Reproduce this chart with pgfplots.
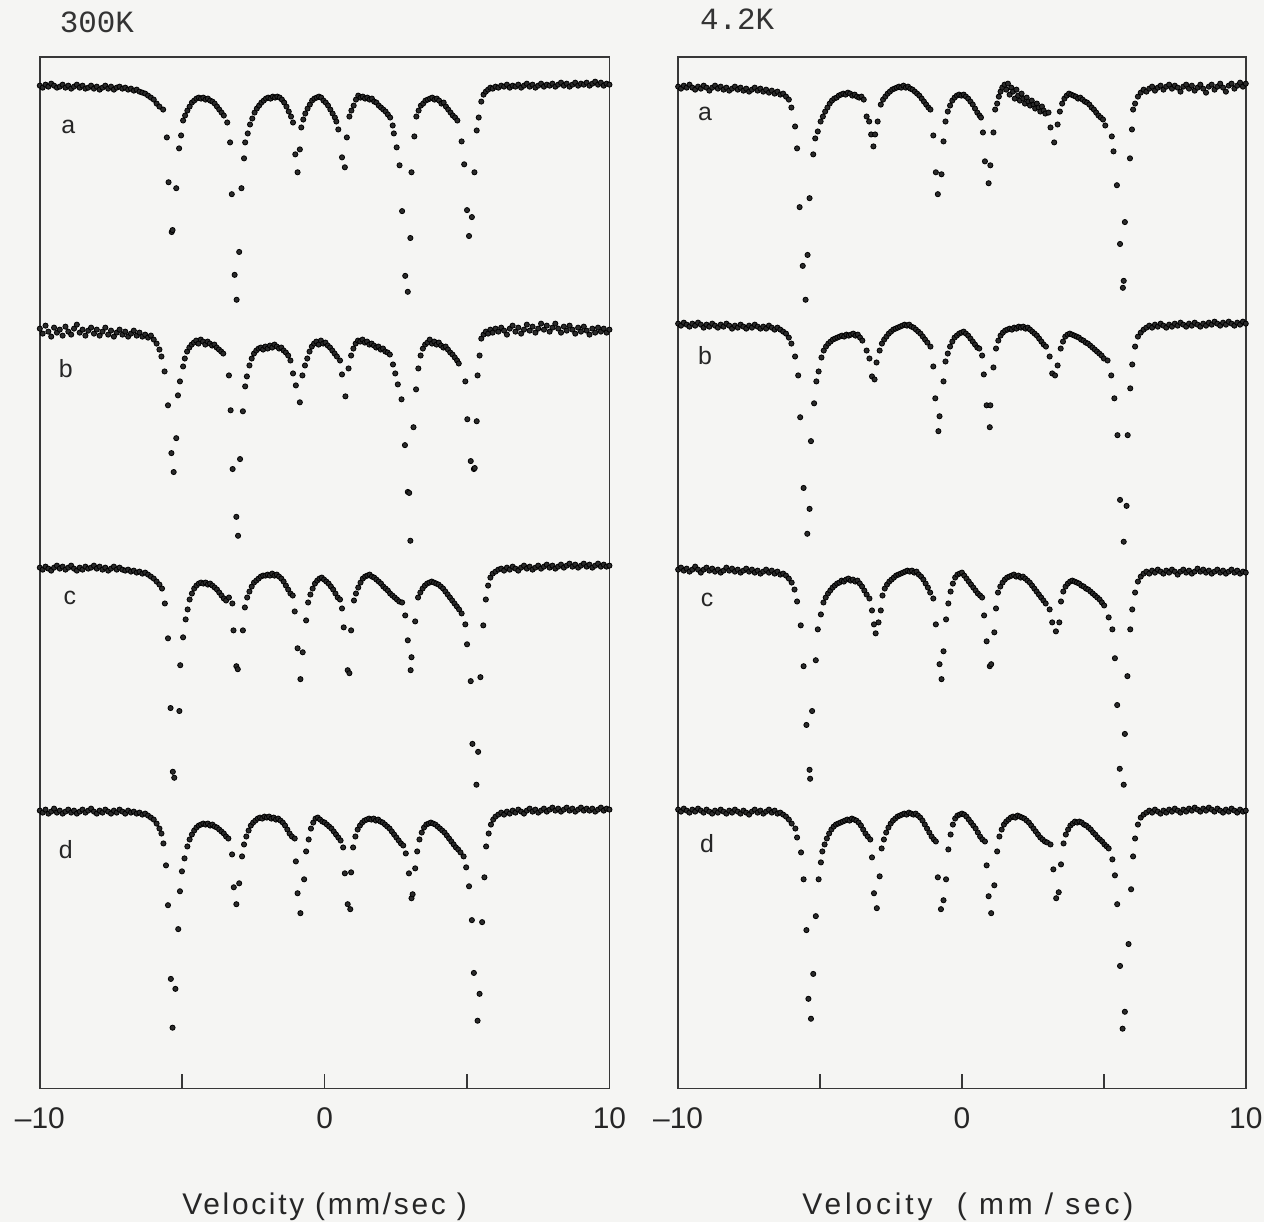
\documentclass[border=0pt]{standalone}
\usepackage{fontspec}
\setmainfont{Liberation Sans}
\newfontfamily\labfont[LetterSpace=13]{Liberation Sans}
\newfontfamily\labfontb[LetterSpace=9]{Liberation Sans}
\newfontfamily\monofont{Liberation Mono}
\usepackage{pgfplots}
\pgfplotsset{compat=1.18}
\definecolor{dotc}{RGB}{42,42,42}
\definecolor{framec}{RGB}{55,55,55}
\definecolor{paper}{RGB}{245,245,243}
\tikzset{lab/.style={font=\fontsize{12.5}{12.5}\selectfont, text=black!85}}
\pgfplotsset{
  moss/.style={
    scale only axis, width=286pt, height=518pt,
    xmin=-10, xmax=10, ymin=57, ymax=1093, y dir=reverse,
    axis line style={framec, line width=0.9pt},
    xtick={-10,-5,0,5,10},
    xticklabels={–10,,0,,10},
    ytick=\empty,
    tick align=inside, xtick pos=lower,
    major tick length=7.5pt,
    tick style={framec, line width=0.8pt},
    xticklabel style={font=\fontsize{15}{15}\selectfont, text=black!85, yshift=-6pt},
    clip=false,
  },
  dots/.style={only marks, mark=*, mark size=1.3pt, mark options={draw=none, fill=dotc}},
}
\begin{document}
\begin{tikzpicture}
\fill[paper] (0pt,0pt) rectangle (634.5pt,-613.5pt);
\node[anchor=base west, font=\monofont\fontsize{15.5}{15.5}\selectfont, text=black!80] at (26.5pt,-16.5pt) {300K};
\node[anchor=base west, font=\monofont\fontsize{15.5}{15.5}\selectfont, text=black!80] at (348pt,-15pt) {4.2K};
\node[anchor=base, font=\labfontb\fontsize{15}{15}\selectfont, text=black!85] at (163pt,-610pt) {Velocity (mm/sec )};
\node[anchor=base, font=\labfont\fontsize{15}{15}\selectfont, text=black!85] at (486pt,-610pt) {Velocity \ ( mm / sec)};
% ---------------- 300 K ----------------
\begin{axis}[moss, at={(163pt,-287.5pt)}, anchor=center]
\node[lab] at (axis cs:-9.0,127) {a};
\node[lab] at (axis cs:-9.09,370) {b};
\node[lab] at (axis cs:-8.95,600) {c};
\node[lab] at (axis cs:-9.09,853) {d};
% a
\addplot[dots] table {
x y
-10.0 86
-9.9 88
-9.8 85
-9.7 87
-9.6 84
-9.5 86
-9.4 88
-9.3 87
-9.2 85
-9.1 88
-9.0 86
-8.9 89
-8.8 87
-8.7 85
-8.6 88
-8.5 86
-8.4 89
-8.3 88
-8.2 86
-8.1 89
-8.0 87
-7.9 90
-7.8 88
-7.7 86
-7.6 89
-7.5 87
-7.4 90
-7.3 88
-7.2 87
-7.1 89
-7.0 88
-6.9 90
-6.8 89
-6.7 91
-6.6 90
-6.5 92
-6.4 93
-6.3 94
-6.2 96
-6.1 98
-6.0 100
-5.9 104
-5.8 107
-5.67 110
-5.54 138
-5.48 183
-5.37 233
-5.34 231
-5.21 189
-5.11 149
-5.04 136
-4.97 121
-4.9 116
-4.82 111
-4.74 107
-4.66 103
-4.58 101
-4.5 99
-4.42 98
-4.34 99
-4.26 98
-4.18 100
-4.1 99
-4.02 101
-3.94 102
-3.86 104
-3.78 107
-3.7 110
-3.62 113
-3.54 116
-3.42 123
-3.32 143
-3.26 195
-3.16 276
-3.09 301
-3.0 253
-2.92 189
-2.83 159
-2.79 143
-2.7 134
-2.62 125
-2.54 119
-2.46 113
-2.38 109
-2.3 106
-2.22 103
-2.14 101
-2.06 99
-1.98 98
-1.9 99
-1.82 97
-1.74 98
-1.66 97
-1.58 98
-1.5 100
-1.42 103
-1.34 107
-1.26 112
-1.18 117
-1.11 123
-1.03 155
-0.95 173
-0.87 150
-0.82 128
-0.75 120
-0.68 114
-0.6 109
-0.52 105
-0.44 101
-0.36 99
-0.28 98
-0.2 97
-0.12 98
-0.04 101
0.04 103
0.12 106
0.2 110
0.28 114
0.36 118
0.41 122
0.48 130
0.61 158
0.71 168
0.78 138
0.87 117
0.94 111
1.02 106
1.1 100
1.18 96
1.26 98
1.34 97
1.42 99
1.5 98
1.58 100
1.66 99
1.74 102
1.82 103
1.9 106
1.98 108
2.06 110
2.14 112
2.22 115
2.3 118
2.39 126
2.43 134
2.53 148
2.63 166
2.72 212
2.83 277
2.92 293
3.01 239
3.05 173
3.15 137
3.22 117
3.3 111
3.38 106
3.46 104
3.54 101
3.62 100
3.7 99
3.78 98
3.86 100
3.94 99
4.02 101
4.1 104
4.18 103
4.26 107
4.34 110
4.42 113
4.5 116
4.58 118
4.66 121
4.81 142
4.9 165
5.0 211
5.07 237
5.17 218
5.26 173
5.34 131
5.41 118
5.5 102
5.58 95
5.66 92
5.74 90
5.82 88
5.9 89
6.0 87
6.1 88
6.2 86
6.3 87
6.4 85
6.5 88
6.6 86
6.7 87
6.8 85
6.9 88
7.0 86
7.1 84
7.2 87
7.3 85
7.4 88
7.5 86
7.6 84
7.7 87
7.8 85
7.9 86
8.0 84
8.1 87
8.2 85
8.3 83
8.4 86
8.5 84
8.6 87
8.7 85
8.8 83
8.9 86
9.0 84
9.1 85
9.2 83
9.3 86
9.4 84
9.5 82
9.6 85
9.7 83
9.8 86
9.9 84
10.0 85
};
% b
\addplot[dots] table {
x y
-10.0 330
-9.9 335
-9.8 327
-9.7 333
-9.6 338
-9.5 329
-9.4 334
-9.3 331
-9.2 337
-9.1 328
-9.0 333
-8.9 336
-8.8 330
-8.7 326
-8.6 334
-8.5 331
-8.4 337
-8.3 332
-8.2 329
-8.1 335
-8.0 331
-7.9 337
-7.8 333
-7.7 329
-7.6 336
-7.5 332
-7.4 338
-7.3 334
-7.2 331
-7.1 336
-7.0 333
-6.9 338
-6.8 335
-6.7 332
-6.6 337
-6.5 334
-6.4 338
-6.3 336
-6.2 339
-6.1 337
-6.0 341
-5.9 345
-5.8 351
-5.73 358
-5.62 373
-5.5 407
-5.38 455
-5.3 474
-5.21 440
-5.15 397
-5.08 383
-4.97 368
-4.91 360
-4.83 353
-4.75 349
-4.67 346
-4.59 344
-4.51 342
-4.43 345
-4.35 341
-4.27 343
-4.19 346
-4.11 343
-4.03 345
-3.95 347
-3.87 346
-3.79 349
-3.71 351
-3.63 353
-3.56 355
-3.36 377
-3.3 412
-3.23 471
-3.1 519
-3.04 538
-2.97 461
-2.87 413
-2.79 388
-2.73 378
-2.64 367
-2.56 360
-2.48 355
-2.4 352
-2.32 350
-2.24 349
-2.16 351
-2.08 348
-2.0 350
-1.92 347
-1.84 349
-1.76 346
-1.68 348
-1.6 350
-1.52 349
-1.44 352
-1.36 354
-1.28 357
-1.2 362
-1.11 375
-1.01 387
-0.87 404
-0.78 377
-0.69 367
-0.61 360
-0.53 353
-0.45 348
-0.37 345
-0.29 343
-0.21 346
-0.13 342
-0.05 345
0.03 344
0.11 347
0.19 349
0.27 352
0.35 355
0.43 358
0.54 362
0.61 376
0.73 398
0.84 370
0.93 357
1.01 350
1.09 345
1.17 342
1.25 343
1.33 341
1.41 344
1.49 343
1.57 346
1.65 345
1.73 347
1.81 349
1.89 348
1.97 351
2.05 350
2.13 353
2.21 354
2.29 356
2.4 366
2.48 375
2.57 386
2.7 401
2.82 447
2.92 494
2.97 495
3.01 543
3.12 429
3.21 391
3.29 370
3.37 357
3.45 350
3.53 346
3.61 344
3.69 341
3.77 345
3.85 343
3.93 346
4.01 344
4.09 347
4.17 349
4.25 348
4.33 351
4.41 354
4.49 356
4.57 359
4.65 362
4.71 365
4.94 383
5.01 421
5.13 463
5.24 471
5.27 470
5.34 423
5.37 377
5.44 357
5.5 340
5.58 336
5.66 333
5.74 335
5.82 331
5.9 334
6.0 330
6.1 333
6.2 329
6.3 332
6.4 336
6.5 330
6.6 327
6.7 333
6.8 329
6.9 335
7.0 331
7.1 326
7.2 332
7.3 328
7.4 334
7.5 330
7.6 325
7.7 331
7.8 327
7.9 333
8.0 329
8.1 325
8.2 330
8.3 334
8.4 328
8.5 332
8.6 327
8.7 331
8.8 335
8.9 329
9.0 333
9.1 328
9.2 332
9.3 336
9.4 330
9.5 334
9.6 329
9.7 333
9.8 330
9.9 334
10.0 331
};
% c
\addplot[dots] table {
x y
-10.0 570
-9.9 572
-9.8 569
-9.7 571
-9.6 573
-9.5 570
-9.4 568
-9.3 571
-9.2 569
-9.1 572
-9.0 570
-8.9 568
-8.8 571
-8.7 573
-8.6 570
-8.5 572
-8.4 569
-8.3 571
-8.2 570
-8.1 568
-8.0 571
-7.9 569
-7.8 572
-7.7 570
-7.6 573
-7.5 571
-7.4 569
-7.3 572
-7.2 570
-7.1 572
-7.0 573
-6.9 572
-6.8 574
-6.7 573
-6.6 575
-6.5 574
-6.4 576
-6.3 575
-6.2 577
-6.1 579
-6.0 581
-5.9 584
-5.8 587
-5.71 591
-5.61 606
-5.5 641
-5.41 711
-5.33 775
-5.28 781
-5.1 714
-5.07 668
-4.97 640
-4.88 622
-4.81 612
-4.74 602
-4.66 596
-4.58 591
-4.5 588
-4.42 586
-4.34 585
-4.26 586
-4.18 585
-4.1 587
-4.02 586
-3.94 588
-3.86 590
-3.78 592
-3.7 595
-3.62 598
-3.54 601
-3.46 603
-3.36 600
-3.24 606
-3.2 633
-3.1 669
-3.05 672
-2.87 633
-2.8 610
-2.72 600
-2.64 594
-2.56 589
-2.48 585
-2.4 583
-2.32 581
-2.24 579
-2.16 578
-2.08 578
-2.0 577
-1.92 578
-1.84 576
-1.76 578
-1.68 577
-1.6 579
-1.52 581
-1.44 584
-1.36 588
-1.28 592
-1.2 596
-1.12 598
-1.05 614
-0.95 651
-0.85 682
-0.77 655
-0.65 623
-0.58 605
-0.5 597
-0.42 591
-0.34 586
-0.26 583
-0.18 581
-0.1 580
-0.02 582
0.06 584
0.14 586
0.22 589
0.3 592
0.38 596
0.46 600
0.54 602
0.61 611
0.67 630
0.81 673
0.87 676
0.93 633
1.03 603
1.1 596
1.18 590
1.26 585
1.34 581
1.42 579
1.5 578
1.58 577
1.66 579
1.74 580
1.82 582
1.9 584
1.98 586
2.06 589
2.14 591
2.22 593
2.3 596
2.38 598
2.46 600
2.54 602
2.62 604
2.72 605
2.83 618
2.92 643
3.02 673
3.05 660
3.18 624
3.28 600
3.36 595
3.44 591
3.52 588
3.6 586
3.68 585
3.76 584
3.84 585
3.92 586
4.0 587
4.08 589
4.16 591
4.24 594
4.32 597
4.4 600
4.48 603
4.56 606
4.64 609
4.72 612
4.81 616
4.94 627
5.0 647
5.13 684
5.19 747
5.33 788
5.39 755
5.47 680
5.57 628
5.66 602
5.74 588
5.82 580
5.9 576
6.0 574
6.1 572
6.2 571
6.3 573
6.4 570
6.5 572
6.6 569
6.7 571
6.8 573
6.9 570
7.0 568
7.1 571
7.2 569
7.3 572
7.4 570
7.5 568
7.6 571
7.7 569
7.8 567
7.9 570
8.0 568
8.1 571
8.2 569
8.3 567
8.4 570
8.5 568
8.6 566
8.7 569
8.8 567
8.9 570
9.0 568
9.1 566
9.2 569
9.3 567
9.4 570
9.5 568
9.6 566
9.7 569
9.8 567
9.9 569
10.0 568
};
% d
\addplot[dots] table {
x y
-10.0 814
-9.9 816
-9.8 813
-9.7 817
-9.6 815
-9.5 812
-9.4 816
-9.3 814
-9.2 817
-9.1 815
-9.0 813
-8.9 816
-8.8 814
-8.7 817
-8.6 815
-8.5 813
-8.4 816
-8.3 814
-8.2 812
-8.1 815
-8.0 817
-7.9 814
-7.8 816
-7.7 813
-7.6 815
-7.5 817
-7.4 814
-7.3 816
-7.2 813
-7.1 815
-7.0 817
-6.9 814
-6.8 816
-6.7 815
-6.6 817
-6.5 816
-6.4 818
-6.3 817
-6.2 819
-6.1 821
-6.0 823
-5.9 827
-5.8 832
-5.73 837
-5.66 847
-5.57 869
-5.5 909
-5.4 983
-5.34 1032
-5.24 993
-5.14 933
-5.08 895
-5.01 875
-4.92 862
-4.82 850
-4.74 843
-4.66 838
-4.58 834
-4.5 831
-4.42 829
-4.34 828
-4.26 827
-4.18 828
-4.1 827
-4.02 829
-3.94 828
-3.86 830
-3.78 831
-3.7 833
-3.62 835
-3.54 837
-3.46 840
-3.38 842
-3.25 858
-3.19 891
-3.1 908
-3.0 887
-2.9 860
-2.83 848
-2.75 840
-2.67 834
-2.59 829
-2.51 826
-2.43 824
-2.35 822
-2.27 821
-2.19 822
-2.11 820
-2.03 821
-1.95 820
-1.87 822
-1.79 821
-1.71 823
-1.63 822
-1.55 824
-1.47 826
-1.39 829
-1.31 833
-1.23 837
-1.15 840
-1.05 842
-1.01 865
-0.95 897
-0.85 917
-0.72 883
-0.65 855
-0.56 843
-0.48 832
-0.4 826
-0.32 822
-0.24 821
-0.16 823
-0.08 825
0.0 826
0.08 828
0.16 830
0.24 832
0.32 835
0.4 838
0.48 841
0.56 844
0.65 851
0.71 877
0.81 908
0.9 913
0.93 876
1.0 851
1.08 840
1.16 833
1.24 829
1.32 826
1.4 824
1.48 823
1.56 822
1.64 823
1.72 822
1.8 824
1.88 823
1.96 825
2.04 826
2.12 828
2.2 830
2.28 832
2.36 835
2.44 838
2.52 841
2.6 844
2.68 847
2.76 849
2.85 857
2.96 877
3.05 902
3.09 898
3.18 872
3.25 855
3.33 843
3.41 836
3.49 831
3.57 828
3.65 827
3.73 826
3.81 827
3.89 828
3.97 830
4.05 832
4.13 834
4.21 836
4.29 839
4.37 842
4.45 845
4.53 848
4.61 851
4.69 853
4.77 856
4.88 860
4.97 871
5.07 890
5.17 924
5.24 977
5.37 1025
5.44 998
5.53 926
5.61 881
5.67 850
5.76 837
5.84 828
5.92 823
6.0 820
6.1 818
6.2 816
6.3 818
6.4 815
6.5 817
6.6 814
6.7 816
6.8 813
6.9 815
7.0 817
7.1 814
7.2 812
7.3 815
7.4 813
7.5 816
7.6 814
7.7 812
7.8 815
7.9 813
8.0 811
8.1 814
8.2 812
8.3 815
8.4 813
8.5 811
8.6 814
8.7 812
8.8 815
8.9 813
9.0 811
9.1 814
9.2 812
9.3 814
9.4 812
9.5 815
9.6 813
9.7 811
9.8 814
9.9 812
10.0 813
};
\end{axis}
% ---------------- 4.2 K ----------------
\begin{axis}[moss, width=285pt, at={(483pt,-287.5pt)}, anchor=center]
\node[lab] at (axis cs:-9.05,114) {a};
\node[lab] at (axis cs:-9.05,357) {b};
\node[lab] at (axis cs:-8.98,602) {c};
\node[lab] at (axis cs:-8.98,847) {d};
% a
\addplot[dots] table {
x y
-10.0 87
-9.9 89
-9.8 86
-9.7 88
-9.6 85
-9.5 88
-9.4 90
-9.3 87
-9.2 89
-9.1 86
-9.0 88
-8.9 91
-8.8 88
-8.7 86
-8.6 89
-8.5 87
-8.4 90
-8.3 88
-8.2 91
-8.1 89
-8.0 87
-7.9 90
-7.8 88
-7.7 91
-7.6 89
-7.5 92
-7.4 90
-7.3 88
-7.2 91
-7.1 89
-7.0 92
-6.9 90
-6.8 93
-6.7 91
-6.6 94
-6.5 92
-6.4 95
-6.3 94
-6.2 97
-6.1 100
-6.01 108
-5.88 127
-5.81 149
-5.72 208
-5.61 267
-5.51 301
-5.44 256
-5.37 199
-5.24 155
-5.17 139
-5.08 132
-4.98 122
-4.9 117
-4.82 112
-4.74 108
-4.66 104
-4.58 101
-4.5 99
-4.42 98
-4.34 96
-4.26 95
-4.18 94
-4.1 95
-4.02 93
-3.94 94
-3.86 96
-3.78 95
-3.7 97
-3.62 98
-3.54 97
-3.46 100
-3.36 117
-3.27 122
-3.2 135
-3.12 147
-3.06 135
-2.97 122
-2.86 105
-2.78 100
-2.7 97
-2.62 94
-2.54 92
-2.46 90
-2.38 89
-2.3 88
-2.22 87
-2.14 88
-2.06 86
-1.98 88
-1.9 87
-1.82 89
-1.74 90
-1.66 92
-1.58 94
-1.5 96
-1.42 99
-1.34 102
-1.26 105
-1.18 108
-1.11 110
-1.01 136
-0.92 173
-0.85 195
-0.72 175
-0.65 142
-0.58 122
-0.5 112
-0.42 106
-0.34 101
-0.26 98
-0.18 96
-0.1 95
-0.02 96
0.06 95
0.14 97
0.22 99
0.3 102
0.38 105
0.46 109
0.54 113
0.62 116
0.67 118
0.74 133
0.81 162
0.94 184
1.0 166
1.11 133
1.17 110
1.24 104
1.3 97
1.36 92
1.42 88
1.5 85
1.56 90
1.62 84
1.68 95
1.74 88
1.8 92
1.86 99
1.92 90
1.98 96
2.04 101
2.1 94
2.16 99
2.22 104
2.28 98
2.34 102
2.4 106
2.46 101
2.52 105
2.58 109
2.64 104
2.7 108
2.76 112
2.82 107
2.88 111
2.94 114
3.05 113
3.12 128
3.25 143
3.37 125
3.45 112
3.53 104
3.61 99
3.69 96
3.77 94
3.85 95
3.93 96
4.01 97
4.09 99
4.17 98
4.25 100
4.33 102
4.41 103
4.49 105
4.57 108
4.65 110
4.73 113
4.81 116
4.89 118
4.97 120
5.05 126
5.28 137
5.34 152
5.46 186
5.57 245
5.67 289
5.7 282
5.74 223
5.92 159
5.99 130
6.03 110
6.1 104
6.2 97
6.3 93
6.4 90
6.5 92
6.6 89
6.7 87
6.8 91
6.9 88
7.0 86
7.1 90
7.2 87
7.3 85
7.4 89
7.5 86
7.6 88
7.7 92
7.8 87
7.9 85
8.0 89
8.1 86
8.2 91
8.3 88
8.4 85
8.5 89
8.6 93
8.7 87
8.8 85
8.9 90
9.0 87
9.1 84
9.2 88
9.3 92
9.4 86
9.5 84
9.6 89
9.7 86
9.8 83
9.9 87
10.0 84
};
% b
\addplot[dots] table {
x y
-10.0 325
-9.9 327
-9.8 324
-9.7 326
-9.6 328
-9.5 325
-9.4 327
-9.3 324
-9.2 326
-9.1 329
-9.0 326
-8.9 328
-8.8 325
-8.7 327
-8.6 329
-8.5 326
-8.4 328
-8.3 325
-8.2 327
-8.1 330
-8.0 327
-7.9 329
-7.8 326
-7.7 328
-7.6 330
-7.5 327
-7.4 329
-7.3 326
-7.2 328
-7.1 330
-7.0 328
-6.9 330
-6.8 327
-6.7 329
-6.6 331
-6.5 329
-6.4 331
-6.3 333
-6.2 335
-6.1 339
-6.01 345
-5.88 358
-5.77 377
-5.7 419
-5.58 490
-5.45 536
-5.37 511
-5.32 443
-5.21 405
-5.13 383
-5.05 373
-4.95 359
-4.87 352
-4.79 348
-4.71 345
-4.63 343
-4.55 341
-4.47 340
-4.39 339
-4.31 338
-4.23 337
-4.15 338
-4.07 336
-3.99 337
-3.91 336
-3.83 335
-3.75 337
-3.67 336
-3.59 339
-3.51 342
-3.36 352
-3.26 360
-3.17 378
-3.08 381
-3.01 364
-2.9 352
-2.82 345
-2.74 341
-2.66 338
-2.58 335
-2.5 333
-2.42 331
-2.34 330
-2.26 329
-2.18 328
-2.1 327
-2.02 326
-1.94 327
-1.86 326
-1.78 328
-1.7 329
-1.62 331
-1.54 333
-1.46 335
-1.38 338
-1.3 341
-1.22 344
-1.11 348
-1.01 368
-0.94 400
-0.83 433
-0.79 418
-0.65 383
-0.58 363
-0.5 355
-0.42 348
-0.34 343
-0.26 339
-0.18 337
-0.1 335
-0.02 334
0.06 333
0.14 335
0.22 337
0.3 340
0.38 343
0.46 346
0.54 349
0.61 350
0.71 357
0.77 376
0.87 407
0.98 429
1.0 407
1.11 369
1.2 350
1.28 342
1.36 337
1.44 334
1.52 332
1.6 331
1.68 330
1.76 331
1.84 329
1.92 330
2.0 328
2.08 329
2.16 328
2.24 330
2.32 329
2.4 331
2.48 333
2.56 335
2.64 337
2.72 340
2.8 343
2.88 346
2.96 348
3.09 358
3.18 375
3.28 377
3.37 367
3.48 350
3.56 343
3.64 338
3.72 336
3.8 335
3.88 336
3.96 337
4.04 338
4.12 339
4.2 341
4.28 342
4.36 344
4.44 345
4.52 347
4.6 349
4.68 351
4.76 353
4.84 355
4.92 357
5.0 360
5.13 362
5.26 377
5.37 400
5.48 437
5.57 502
5.7 544
5.8 508
5.84 437
5.93 390
6.0 366
6.1 348
6.2 338
6.3 334
6.4 331
6.5 329
6.6 327
6.7 329
6.8 326
6.9 328
7.0 325
7.1 327
7.2 329
7.3 326
7.4 328
7.5 325
7.6 327
7.7 324
7.8 326
7.9 328
8.0 325
8.1 327
8.2 324
8.3 326
8.4 328
8.5 325
8.6 327
8.7 324
8.8 326
8.9 323
9.0 325
9.1 327
9.2 324
9.3 326
9.4 323
9.5 325
9.6 327
9.7 324
9.8 326
9.9 323
10.0 325
};
% c
\addplot[dots] table {
x y
-10.0 572
-9.9 570
-9.8 573
-9.7 571
-9.6 574
-9.5 572
-9.4 569
-9.3 572
-9.2 575
-9.1 572
-9.0 570
-8.9 573
-8.8 571
-8.7 574
-8.6 572
-8.5 575
-8.4 573
-8.3 570
-8.2 573
-8.1 571
-8.0 574
-7.9 572
-7.8 575
-7.7 573
-7.6 571
-7.5 574
-7.4 572
-7.3 575
-7.2 573
-7.1 576
-7.0 574
-6.9 572
-6.8 575
-6.7 573
-6.6 576
-6.5 574
-6.4 577
-6.3 576
-6.2 578
-6.1 581
-6.0 585
-5.9 592
-5.81 604
-5.68 628
-5.58 669
-5.48 728
-5.37 773
-5.35 782
-5.28 714
-5.15 663
-5.08 632
-4.97 617
-4.88 605
-4.8 600
-4.72 596
-4.64 593
-4.56 590
-4.48 588
-4.4 586
-4.32 585
-4.24 583
-4.16 584
-4.08 582
-4.0 581
-3.92 583
-3.84 582
-3.76 584
-3.68 583
-3.6 586
-3.52 589
-3.44 593
-3.36 597
-3.26 601
-3.17 613
-3.1 627
-3.04 636
-2.94 625
-2.86 613
-2.8 598
-2.72 591
-2.64 587
-2.56 584
-2.48 582
-2.4 580
-2.32 578
-2.24 577
-2.16 576
-2.08 575
-2.0 574
-1.92 573
-1.84 574
-1.76 573
-1.68 575
-1.6 574
-1.52 577
-1.44 579
-1.36 582
-1.28 586
-1.2 590
-1.12 595
-1.01 601
-0.92 627
-0.79 667
-0.72 682
-0.65 654
-0.56 622
-0.48 606
-0.4 594
-0.32 586
-0.24 580
-0.16 577
-0.08 576
0.0 575
0.08 578
0.16 581
0.24 584
0.32 587
0.4 590
0.48 593
0.56 596
0.64 598
0.71 600
0.78 618
0.87 644
0.98 669
1.03 667
1.14 635
1.2 611
1.27 595
1.35 589
1.43 585
1.51 582
1.59 580
1.67 579
1.75 578
1.83 577
1.91 579
1.99 578
2.07 580
2.15 579
2.23 581
2.31 583
2.39 585
2.47 588
2.55 591
2.63 594
2.71 597
2.79 600
2.87 603
2.95 606
3.09 612
3.18 625
3.31 634
3.43 625
3.49 604
3.57 594
3.65 589
3.73 586
3.81 584
3.89 583
3.97 584
4.05 585
4.13 586
4.21 588
4.29 589
4.37 591
4.45 592
4.53 594
4.61 596
4.69 598
4.77 600
4.85 602
4.93 605
5.01 608
5.17 620
5.3 632
5.39 661
5.47 708
5.56 772
5.7 788
5.74 737
5.83 679
5.93 632
6.0 612
6.1 595
6.2 584
6.3 579
6.4 576
6.5 574
6.6 576
6.7 573
6.8 575
6.9 572
7.0 574
7.1 576
7.2 573
7.3 575
7.4 572
7.5 574
7.6 577
7.7 574
7.8 572
7.9 575
8.0 573
8.1 576
8.2 574
8.3 571
8.4 574
8.5 572
8.6 575
8.7 573
8.8 576
8.9 574
9.0 572
9.1 575
9.2 573
9.3 576
9.4 574
9.5 572
9.6 575
9.7 573
9.8 576
9.9 574
10.0 575
};
% d
\addplot[dots] table {
x y
-10.0 813
-9.9 815
-9.8 812
-9.7 814
-9.6 816
-9.5 813
-9.4 815
-9.3 812
-9.2 814
-9.1 816
-9.0 813
-8.9 815
-8.8 817
-8.7 814
-8.6 816
-8.5 813
-8.4 815
-8.3 817
-8.2 814
-8.1 816
-8.0 813
-7.9 815
-7.8 817
-7.7 814
-7.6 816
-7.5 818
-7.4 815
-7.3 813
-7.2 816
-7.1 814
-7.0 817
-6.9 815
-6.8 813
-6.7 816
-6.6 814
-6.5 817
-6.4 816
-6.3 818
-6.2 820
-6.1 823
-6.0 827
-5.87 832
-5.81 841
-5.67 856
-5.58 883
-5.48 934
-5.41 1003
-5.32 1023
-5.24 978
-5.15 920
-5.05 883
-4.97 866
-4.92 855
-4.84 848
-4.76 842
-4.68 837
-4.6 833
-4.52 830
-4.44 828
-4.36 827
-4.28 826
-4.2 825
-4.12 824
-4.04 823
-3.96 824
-3.88 822
-3.8 823
-3.72 824
-3.64 826
-3.56 829
-3.48 833
-3.4 837
-3.32 840
-3.23 843
-3.17 861
-3.1 897
-3.0 912
-2.9 880
-2.83 852
-2.75 843
-2.67 836
-2.59 831
-2.51 827
-2.43 824
-2.35 822
-2.27 820
-2.19 819
-2.11 818
-2.03 817
-1.95 818
-1.87 816
-1.79 817
-1.71 818
-1.63 817
-1.55 819
-1.47 821
-1.39 824
-1.31 828
-1.23 832
-1.15 836
-1.07 840
-0.99 843
-0.92 845
-0.85 881
-0.74 913
-0.65 904
-0.56 883
-0.48 853
-0.4 838
-0.32 828
-0.24 822
-0.16 819
-0.08 818
0.0 817
0.08 818
0.16 820
0.24 823
0.32 826
0.4 829
0.48 832
0.56 836
0.64 840
0.72 843
0.81 845
0.87 869
0.94 900
1.03 917
1.14 889
1.24 855
1.32 840
1.4 833
1.48 828
1.56 825
1.64 823
1.72 821
1.8 820
1.88 821
1.96 819
2.04 820
2.12 821
2.2 822
2.28 824
2.36 826
2.44 829
2.52 832
2.6 835
2.68 838
2.76 841
2.84 843
2.92 845
3.0 846
3.12 848
3.22 873
3.32 902
3.41 896
3.49 868
3.58 847
3.66 838
3.74 833
3.82 829
3.9 827
3.98 825
4.06 826
4.14 825
4.22 826
4.3 828
4.38 829
4.46 831
4.54 833
4.62 836
4.7 838
4.78 841
4.86 843
4.94 845
5.02 848
5.1 850
5.17 852
5.3 863
5.39 879
5.47 908
5.57 970
5.66 1033
5.74 1016
5.87 948
5.96 893
6.03 860
6.1 842
6.2 828
6.3 821
6.4 818
6.5 816
6.6 814
6.7 816
6.8 813
6.9 815
7.0 817
7.1 814
7.2 816
7.3 813
7.4 815
7.5 812
7.6 814
7.7 816
7.8 813
7.9 815
8.0 812
8.1 814
8.2 811
8.3 813
8.4 815
8.5 812
8.6 814
8.7 811
8.8 813
8.9 815
9.0 812
9.1 814
9.2 816
9.3 813
9.4 815
9.5 812
9.6 814
9.7 816
9.8 813
9.9 815
10.0 814
};
\end{axis}
\end{tikzpicture}
\end{document}
